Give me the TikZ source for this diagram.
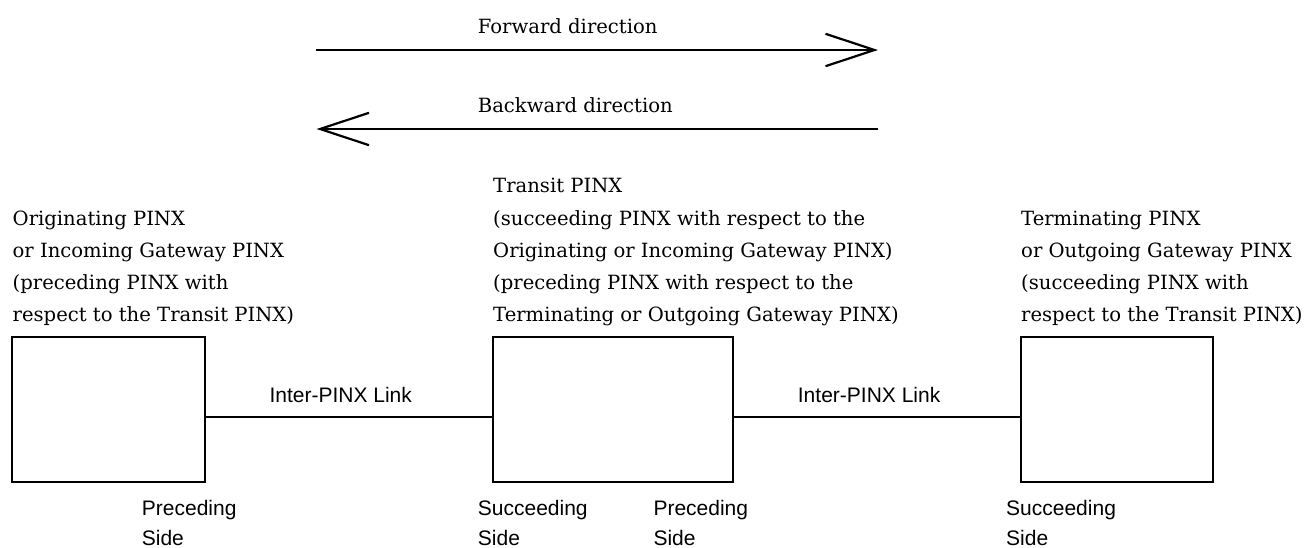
\documentclass[tikz,border=0pt]{standalone}
\usepackage{fontspec}
\setmainfont{DejaVu Serif}
\newfontfamily\labelfont{Liberation Sans}
\usetikzlibrary{arrows.meta}
\begin{document}
\begin{tikzpicture}[x=1pt,y=-1pt,
  pinx/.style={draw,line width=2.2pt,minimum height=144.4pt,inner sep=0pt,outer sep=0pt},
  serifblock/.style={anchor=base west,inner sep=0pt,align=left,font=\fontsize{19.6}{32.2}\selectfont},
  sidelabel/.style={anchor=base west,inner sep=0pt,align=left,font=\labelfont\fontsize{21}{30}\selectfont},
  dirlabel/.style={anchor=base west,inner sep=0pt,font=\fontsize{19.6}{24}\selectfont},
  dirarrow/.style={line width=2.2pt,-{Straight Barb[length=49pt,width=32.4pt]}},
  link/.style={line width=2.2pt}]
\useasboundingbox (0,0) rectangle (1306,547);
% direction arrows
\coordinate (f1) at (316,50);
\coordinate (f2) at (878,50);
\coordinate (k1) at (878,129);
\coordinate (k2) at (316.5,129);
\draw[dirarrow] (f1) -- (f2);
\draw[dirarrow] (k1) -- (k2);
\node[dirlabel] (fl) at (477.7,33.3) {Forward direction};
\node[dirlabel] (bl) at (477.7,112) {Backward direction};
% description blocks (base anchor = baseline of last line)
\begin{scope}
\clip (0,0) rectangle (1306,325.5);
\node[serifblock] (t1) at (12.5,321.7) {Originating PINX\\or Incoming Gateway PINX\\(preceding PINX with\\respect to the Transit PINX)};
\node[serifblock] (t2) at (493,321.7) {Transit PINX\\(succeeding PINX with respect to the\\Originating or Incoming Gateway PINX)\\(preceding PINX with respect to the\\Terminating or Outgoing Gateway PINX)};
\node[serifblock] (t3) at (1021,321.7) {Terminating PINX\\or Outgoing Gateway PINX\\(succeeding PINX with\\respect to the Transit PINX)};
\end{scope}
% boxes
\node[pinx,minimum width=192.7pt] (b1) at (108.7,409.5) {};
\node[pinx,minimum width=240.6pt] (b2) at (613,409.5) {};
\node[pinx,minimum width=192.3pt] (b3) at (1117.2,409.5) {};
\coordinate (lv) at (0,417.3);
\draw[link] (b1.east |- lv) -- (b2.west |- lv);
\draw[link] (b2.east |- lv) -- (b3.west |- lv);
\node[sidelabel] (l1) at (269.3,402.3) {Inter-PINX Link};
\node[sidelabel] (l2) at (797.7,402.3) {Inter-PINX Link};
\node[sidelabel] (s1) at (141.7,545) {Preceding\\Side};
\node[sidelabel] (s2) at (477.7,545) {Succeeding\\Side};
\node[sidelabel] (s3) at (653.3,545) {Preceding\\Side};
\node[sidelabel] (s4) at (1006,545) {Succeeding\\Side};
\end{tikzpicture}
\end{document}
